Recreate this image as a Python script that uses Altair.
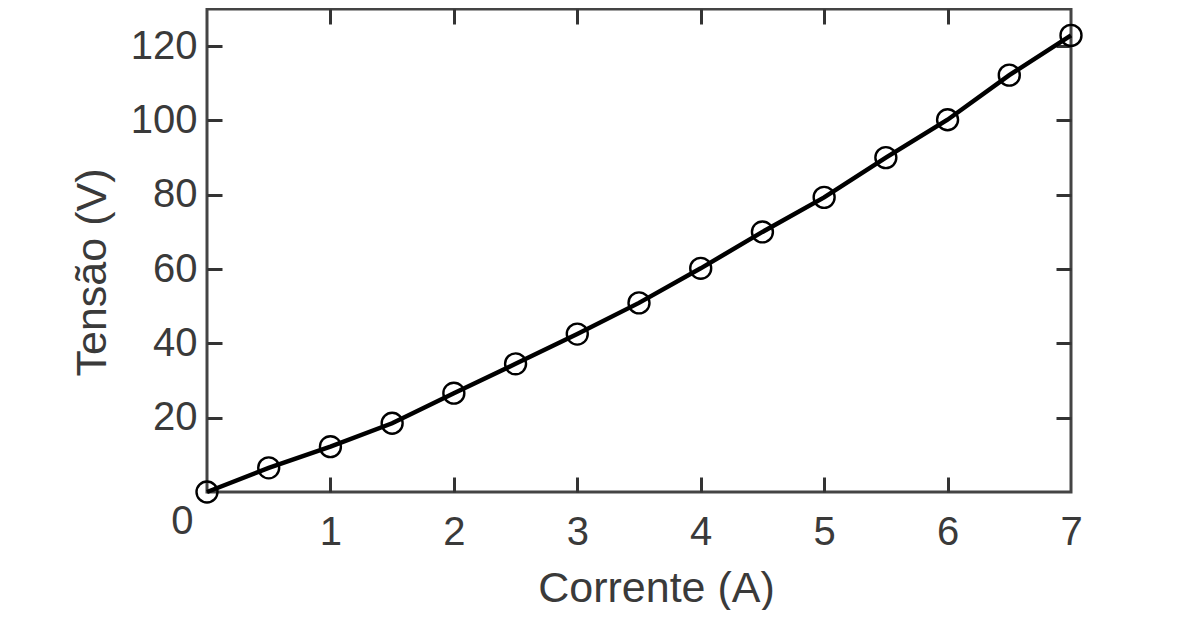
import altair as alt
import pandas as pd

# Data
corrente = [0, 0.5, 1, 1.5, 2, 2.5, 3, 3.5, 4, 4.5, 5, 5.5, 6, 6.5, 7]
tensao = [0, 6.5, 12.2, 18.5, 26.6, 34.5, 42.5, 50.9, 60.2, 70.0, 79.3, 90.0, 100.2, 112.2, 122.9]

x_ticks = [0, 1, 2, 3, 4, 5, 6, 7]
x_inner_ticks = [1, 2, 3, 4, 5, 6]
y_ticks = [20, 40, 60, 80, 100, 120]

x_title = "Corrente (A)"
y_title = "Tensão (V)"

W, H = 864, 483
FONT = "Liberation Sans"
LABEL_COLOR = "#3a3a3a"

df = pd.DataFrame({"Corrente": corrente, "Tensao": tensao})

xs = alt.Scale(domain=[0, 7], nice=False, zero=False)
ys = alt.Scale(domain=[0, 130], nice=False, zero=False)

main_x_axis = alt.Axis(
    orient="bottom", values=x_ticks, ticks=False, domain=False, grid=False,
    labelFont=FONT, labelFontSize=40, labelColor=LABEL_COLOR,
    labelAlign={"condition": {"test": "datum.value == 0", "value": "right"}, "value": "center"},
    labelOffset={"condition": {"test": "datum.value == 0", "value": -14}, "value": 0},
    labelPadding={"condition": {"test": "datum.value == 0", "value": 9}, "value": 20},
    labelBaseline="top", labelFlush=False, labelOverlap=False,
    title=x_title, titleFont=FONT, titleFontSize=43, titleFontWeight="normal",
    titleColor=LABEL_COLOR, titleX=449, titleY=109, titleAlign="center",
    titleBaseline="alphabetic", titleAnchor="middle",
)
main_y_axis = alt.Axis(
    orient="left", values=y_ticks, ticks=False, domain=False, grid=False,
    labelFont=FONT, labelFontSize=40, labelColor=LABEL_COLOR, labelPadding=10,
    labelBaseline="middle", labelOverlap=False, labelFlush=False,
    title=y_title, titleFont=FONT, titleFontSize=43, titleFontWeight="normal",
    titleColor=LABEL_COLOR, titleAngle=270, titleX=-115, titleY=263,
    titleAlign="center", titleBaseline="middle", titleAnchor="middle",
)

def tick_axis(orient, values, offset):
    return alt.Axis(orient=orient, values=values, offset=offset, labels=False,
                    domain=False, grid=False, title=None, ticks=True,
                    tickSize=15, tickWidth=3, tickColor="#333333")

line = alt.Chart(df).mark_line(color="black", strokeWidth=4.5).encode(
    x=alt.X("Corrente:Q", scale=xs, axis=main_x_axis),
    y=alt.Y("Tensao:Q", scale=ys, axis=main_y_axis),
)

points = alt.Chart(df).mark_point(
    shape="circle", size=440, filled=False, stroke="black", strokeWidth=2.4, opacity=1
).encode(
    x=alt.X("Corrente:Q", scale=xs, axis=None),
    y=alt.Y("Tensao:Q", scale=ys, axis=None),
)

# inward ticks on bottom and left edges
ticks_a = alt.Chart(df).mark_point(opacity=0).encode(
    x=alt.X("Corrente:Q", scale=xs, axis=tick_axis("top", x_inner_ticks, -H)),
    y=alt.Y("Tensao:Q", scale=ys, axis=tick_axis("right", y_ticks, -W)),
)
# inward ticks on top and right edges
ticks_b = alt.Chart(df).mark_point(opacity=0).encode(
    x=alt.X("Corrente:Q", scale=xs, axis=tick_axis("bottom", x_inner_ticks, -H)),
    y=alt.Y("Tensao:Q", scale=ys, axis=tick_axis("left", y_ticks, -W)),
)

chart = alt.layer(ticks_a, ticks_b, line, points).resolve_axis(
    x="independent", y="independent"
).properties(
    width=W, height=H,
    padding={"left": 199, "top": 1, "right": 20, "bottom": 118},
    autosize=alt.AutoSizeParams(type="none"),
    background="white",
).configure_view(stroke="#444444", strokeWidth=3)

chart.save("out.html", embed_options={"renderer": "svg", "actions": False})
